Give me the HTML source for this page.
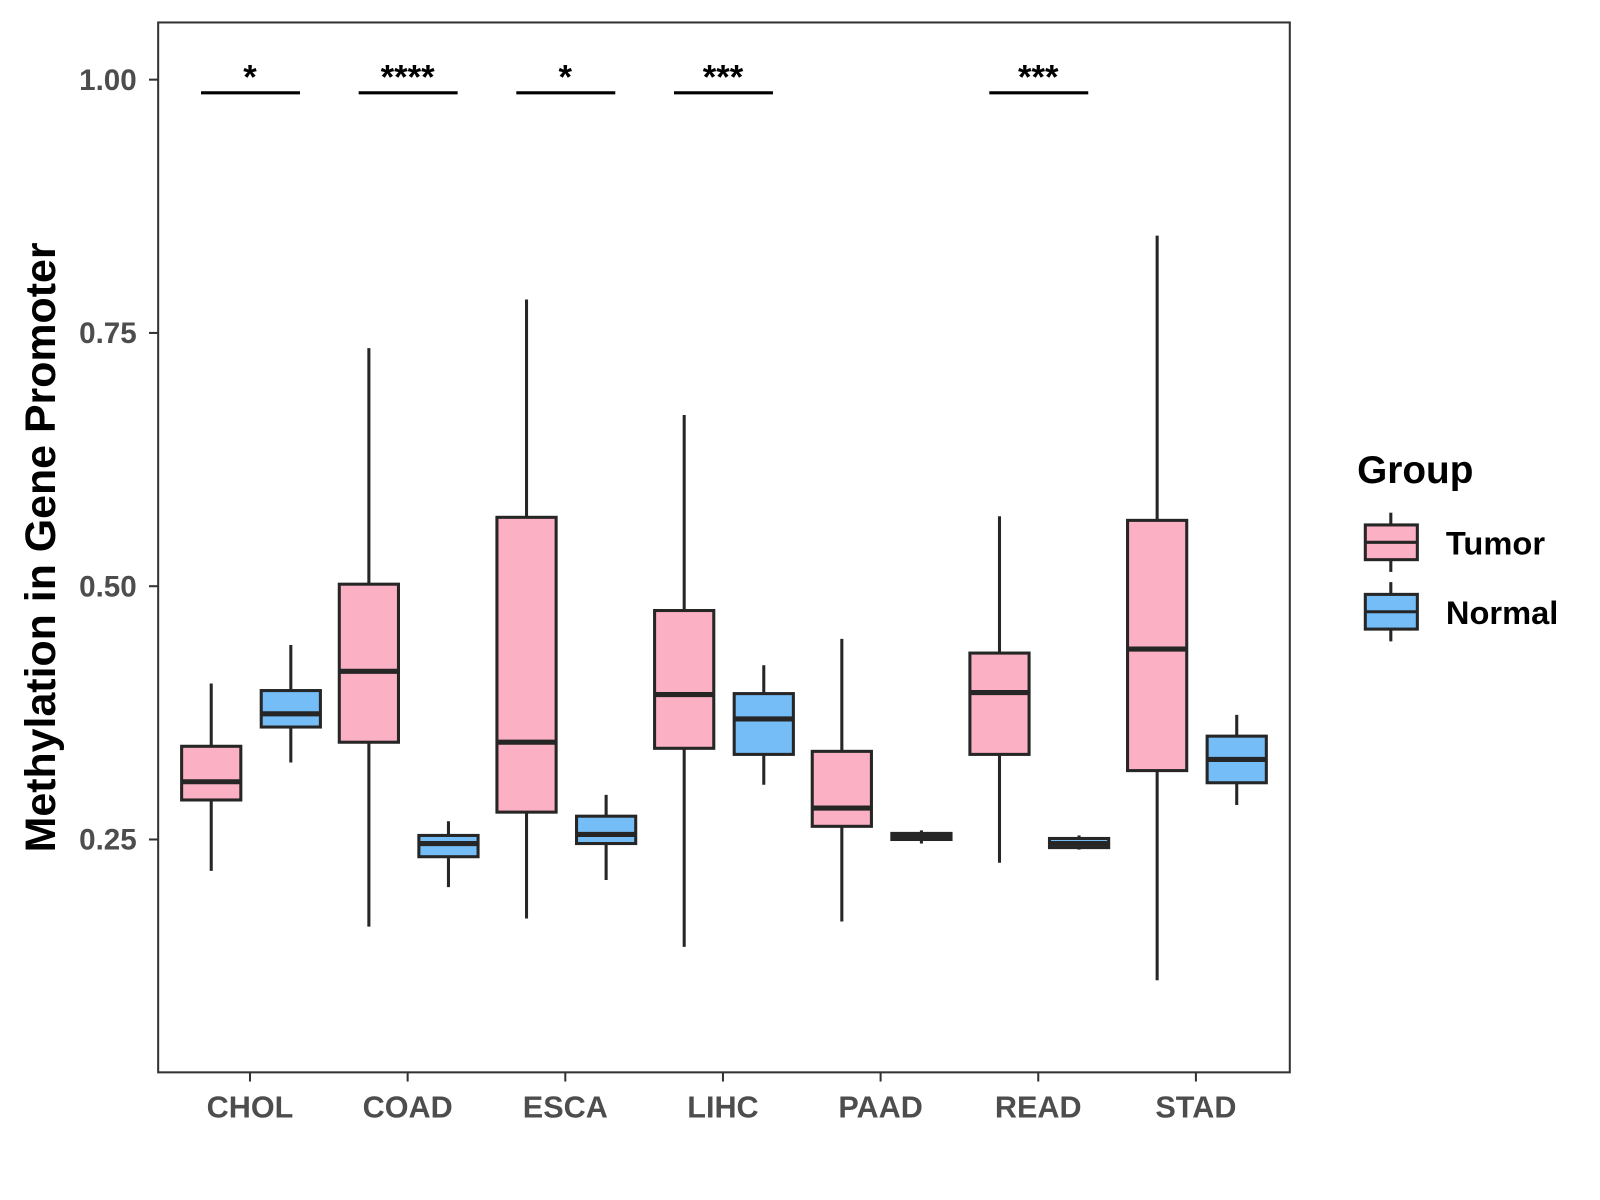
<!DOCTYPE html>
<html><head><meta charset="utf-8">
<style>html,body{margin:0;padding:0;background:#fff}svg{display:block;font-family:"Liberation Sans",Arial,sans-serif}</style>
</head><body>
<svg id="chart" width="1600" height="1200" viewBox="0 0 1568 1175" preserveAspectRatio="none" xmlns="http://www.w3.org/2000/svg">
<rect x="0" y="0" width="1568" height="1175" fill="#fff"/>
<g id="plot"></g>
<text transform="translate(54,536) rotate(-90)" text-anchor="middle" font-size="42" font-weight="bold" fill="#000">Methylation in Gene Promoter</text>
<g>
<text x="1330" y="473" font-size="38" font-weight="bold" fill="#000">Group</text>
<g>
<line x1="1363" y1="502" x2="1363" y2="560" stroke="#262626" stroke-width="3"/>
<rect x="1338" y="514" width="51" height="34" fill="#FBB0C3" stroke="#262626" stroke-width="3"/>
<line x1="1338" y1="531" x2="1389" y2="531" stroke="#262626" stroke-width="3"/>
<text x="1417" y="543" font-size="32" font-weight="bold" fill="#000">Tumor</text>
</g>
<g>
<line x1="1363" y1="570" x2="1363" y2="628" stroke="#262626" stroke-width="3"/>
<rect x="1338" y="582" width="51" height="34" fill="#74BDF7" stroke="#262626" stroke-width="3"/>
<line x1="1338" y1="599" x2="1389" y2="599" stroke="#262626" stroke-width="3"/>
<text x="1417" y="611" font-size="32" font-weight="bold" fill="#000">Normal</text>
</g>
</g>
</svg>
<script>
const categories = ["CHOL","COAD","ESCA","LIHC","PAAD","READ","STAD"];
// [low, q1, median, q3, high]
const tumorStats = [
 [0.219,0.289,0.307,0.342,0.404],
 [0.164,0.346,0.416,0.502,0.735],
 [0.172,0.277,0.346,0.568,0.783],
 [0.144,0.340,0.393,0.476,0.669],
 [0.169,0.263,0.281,0.337,0.448],
 [0.227,0.334,0.395,0.434,0.569],
 [0.111,0.318,0.438,0.565,0.846]
];
const normalStats = [
 [0.326,0.361,0.374,0.397,0.442],
 [0.203,0.233,0.246,0.254,0.268],
 [0.210,0.246,0.255,0.273,0.294],
 [0.304,0.334,0.369,0.394,0.422],
 [0.246,0.250,0.253,0.256,0.259],
 [0.240,0.242,0.246,0.251,0.254],
 [0.284,0.306,0.329,0.352,0.373]
];
const sigLabels = ["*","****","*","***","","***",""];
const sigLevel = [0.987];
const yTicks = [0.25,0.50,0.75,1.00];
const yTickLabels = ["0.25","0.50","0.75","1.00"];

const P = {l:155, r:1264, t:22, b:1050};
function yScale(v){ return 78 + (1 - v) * 992; }
function xScale(i){ return 245 + i * 154.5; }
const NS = "http://www.w3.org/2000/svg";
const g = document.getElementById("plot");
function mk(tag, attrs, parent){
  const e = document.createElementNS(NS, tag);
  for (const k in attrs) e.setAttribute(k, attrs[k]);
  (parent||g).appendChild(e); return e;
}
const frame = mk("rect",{x:P.l,y:P.t,width:P.r-P.l,height:P.b-P.t,fill:"none",stroke:"#333",'stroke-width':2});



yTicks.forEach((v,i)=>{
  const y = yScale(v);
  const t = mk("line",{x1:P.l-9,x2:P.l,y1:y,y2:y,stroke:"#333",'stroke-width':2});
  
  
  const tx = mk("text",{x:P.l-21,y:y+10,'text-anchor':'end','font-size':29,'font-weight':'bold',fill:'#4d4d4d'});
  tx.textContent = yTickLabels[i];
  
  
});

function drawBox(s, cx, fill, name){
  const grp = mk("g",{});
  
  
  const w = 58;
  mk("line",{x1:cx,x2:cx,y1:yScale(s[4]),y2:yScale(s[0]),stroke:"#262626",'stroke-width':3},grp);
  mk("rect",{x:cx-w/2,y:yScale(s[3]),width:w,height:Math.max(1,yScale(s[1])-yScale(s[3])),fill:fill,stroke:"#262626",'stroke-width':3},grp);
  mk("line",{x1:cx-w/2,x2:cx+w/2,y1:yScale(s[2]),y2:yScale(s[2]),stroke:"#262626",'stroke-width':5},grp);
}

categories.forEach((c,i)=>{
  const cx = xScale(i);
  drawBox(tumorStats[i], cx-38, "#FBB0C3", "box-tumor-"+c.toLowerCase());
  drawBox(normalStats[i], cx+40, "#74BDF7", "box-normal-"+c.toLowerCase());
  const tk = mk("line",{x1:cx,x2:cx,y1:P.b,y2:P.b+9,stroke:"#333",'stroke-width':2});
  
  
  const lb = mk("text",{x:cx,y:P.b+44,'text-anchor':'middle','font-size':30,'font-weight':'bold',fill:'#4d4d4d'});
  lb.textContent = c;
  
  
  if (sigLabels[i]) {
    const y = yScale(sigLevel[0]);
    const bl = mk("line",{x1:cx-48,x2:cx+49,y1:y,y2:y,stroke:"#000",'stroke-width':3});
    
    
    const st = mk("text",{x:cx,y:y-4,'text-anchor':'middle','font-size':34,'font-weight':'bold',fill:'#000'});
    st.textContent = sigLabels[i];
    
    
  }
});
</script>
</body></html>
